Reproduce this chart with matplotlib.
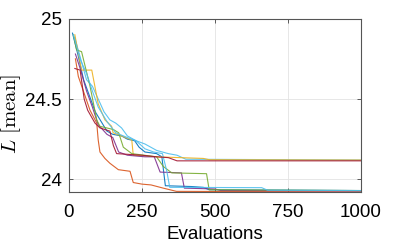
import matplotlib
matplotlib.use("Agg")
import matplotlib.pyplot as plt

# ---- data ----
blue_x = [12, 30, 50, 70, 90, 110, 130, 150, 180, 200, 225, 240, 260, 300, 318, 330, 420, 460, 480, 1000]
blue_y = [24.91, 24.78, 24.62, 24.52, 24.42, 24.36, 24.30, 24.28, 24.27, 24.25, 24.24, 24.20, 24.17, 24.16, 24.14, 23.96, 23.955, 23.95, 23.935, 23.93]

orange_x = [22, 32, 72, 95, 100, 106, 123, 140, 169, 209, 220, 250, 281, 323, 368, 1000]
orange_y = [24.75, 24.64, 24.43, 24.35, 24.245, 24.17, 24.13, 24.10, 24.06, 24.05, 23.98, 23.97, 23.965, 23.945, 23.925, 23.922]

yellow_x = [20, 43, 78, 100, 123, 146, 151, 215, 220, 300, 460, 480, 1000]
yellow_y = [24.90, 24.68, 24.68, 24.47, 24.37, 24.33, 24.29, 24.245, 24.15, 24.14, 24.13, 24.122, 24.12]

purple_x = [22, 40, 60, 80, 100, 130, 150, 170, 200, 260, 292, 312, 385, 395, 500, 520, 1000]
purple_y = [24.78, 24.68, 24.55, 24.45, 24.34, 24.28, 24.26, 24.17, 24.15, 24.14, 24.14, 24.045, 24.04, 23.945, 23.94, 23.93, 23.928]

green_x = [15, 26, 43, 72, 95, 106, 152, 170, 186, 215, 300, 323, 352, 471, 480, 1000]
green_y = [24.90, 24.805, 24.795, 24.58, 24.37, 24.33, 24.31, 24.29, 24.20, 24.16, 24.14, 24.08, 24.04, 24.035, 23.935, 23.93]

lblue_x = [15, 40, 60, 80, 100, 130, 160, 200, 230, 260, 290, 320, 335, 345, 660, 680, 1000]
lblue_y = [24.90, 24.74, 24.66, 24.55, 24.45, 24.36, 24.29, 24.26, 24.24, 24.19, 24.17, 24.16, 24.05, 23.95, 23.948, 23.932, 23.93]

dred_x = [20, 38, 52, 64, 89, 106, 140, 152, 163, 250, 300, 340, 370, 1000]
dred_y = [24.69, 24.68, 24.50, 24.43, 24.35, 24.32, 24.30, 24.21, 24.16, 24.15, 24.14, 24.135, 24.115, 24.115]

lblue2_x = [20, 40, 60, 80, 100, 120, 140, 160, 180, 200, 230, 260, 300, 340, 370, 400, 1000]
lblue2_y = [24.88, 24.75, 24.62, 24.58, 24.50, 24.42, 24.37, 24.35, 24.32, 24.27, 24.24, 24.22, 24.18, 24.16, 24.15, 24.125, 24.12]

series = [
    (blue_x, blue_y, "#0072BD"),
    (lblue2_x, lblue2_y, "#4DBEEE"),
    (orange_x, orange_y, "#D95319"),
    (yellow_x, yellow_y, "#EDB120"),
    (purple_x, purple_y, "#7E2F8E"),
    (green_x, green_y, "#77AC30"),
    (lblue_x, lblue_y, "#4DBEEE"),
    (dred_x, dred_y, "#A2142F"),
]

xticks = [0, 250, 500, 750, 1000]
yticks = [24, 24.5, 25]
ytick_labels = ["24", "24.5", "25"]

plt.rcParams["font.family"] = ["Liberation Sans", "DejaVu Sans"]
plt.rcParams["mathtext.fontset"] = "cm"

fig = plt.figure(figsize=(3.99, 2.47), dpi=100)
ax = fig.add_axes([69 / 399, 1 - 192 / 247, (361 - 69) / 399, (192 - 18.7) / 247])

for x, y, c in series:
    ax.plot(x, y, color=c, lw=0.8, alpha=0.9)

ax.set_xlim(0, 1000)
ax.set_ylim(23.921, 25)
ax.set_xticks(xticks)
ax.set_yticks(yticks)
ax.set_yticklabels(ytick_labels)
ax.grid(True, color="#e3e3e3", lw=0.6)
ax.set_axisbelow(True)
ax.tick_params(direction="in", length=3, width=0.6, color="#444444",
               labelsize=13.5, top=True, right=True)
ax.tick_params(axis="x", pad=8.5)
ax.tick_params(axis="y", pad=5)
for s in ax.spines.values():
    s.set_color("#555555")
    s.set_linewidth(0.8)

ax.set_xlabel("Evaluations", fontsize=13.5, labelpad=4)
ax.set_ylabel(r"$L\ [\mathrm{mean}]$", fontsize=15)
ax.yaxis.set_label_coords(-0.158, 0.45)

fig.savefig("out.png", dpi=100)
